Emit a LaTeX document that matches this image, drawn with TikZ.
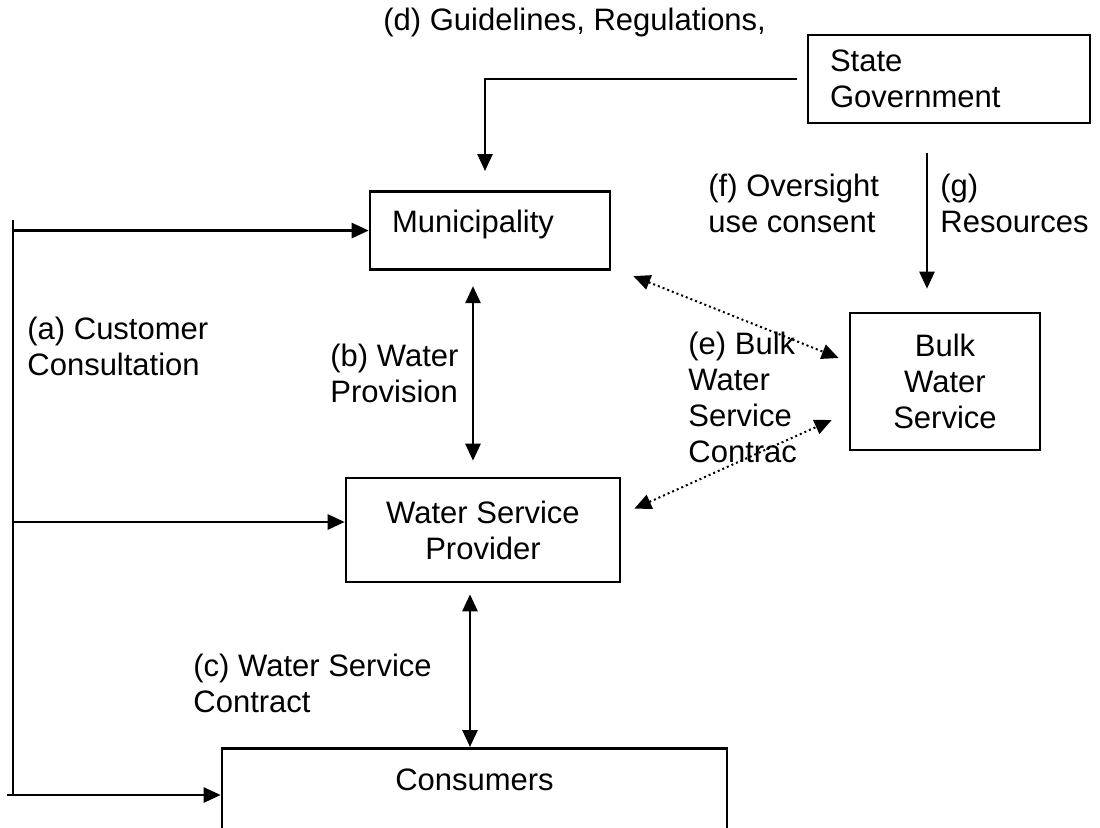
\documentclass[tikz,border=0pt]{standalone}
\usepackage{fontspec}
\setmainfont{Liberation Sans}
\usetikzlibrary{positioning,arrows.meta,calc}

\begin{document}
\begin{tikzpicture}[x=0.5pt, y=-0.5pt, font=\fontsize{15.5}{18}\selectfont, every node/.style={align=center}]
\tikzset{
  orgbox/.style={draw, line width=1.3pt, inner sep=0pt},
  lbl/.style={anchor=base west, inner sep=0pt, align=left},
  arr/.style={-{Triangle[length=8.5pt,width=7.5pt]}, line width=1.3pt},
  dblarr/.style={{Triangle[length=8.5pt,width=7.5pt]}-{Triangle[length=8.5pt,width=7.5pt]}, line width=1.3pt},
  dotarr/.style={dblarr, line width=1pt, dash pattern=on 1pt off 1.5pt}
}
  \useasboundingbox (0,0) rectangle (1100,827);
  \clip (0,0) rectangle (1100,827);
  % boxes
  \node[orgbox, minimum width=141pt, minimum height=44pt, text width=119pt, inner xsep=11pt, align=left] (state) at (949,79) {State\\Government};
  \node[orgbox, anchor=north, text width=98pt, inner xsep=11pt, inner ysep=9.5pt, text depth=9pt, align=left] (muni) at (490,190) {Municipality};
  \node[orgbox, minimum width=95pt, minimum height=68.5pt] (bulk) at (945,381.5) {Bulk\\Water\\Service};
  \node[orgbox, minimum width=137pt, minimum height=52pt] (wsp) at (483,530) {Water Service\\Provider};
  \node[orgbox, anchor=north, minimum width=252.5pt, inner ysep=10.5pt, text depth=40pt] (cons) at (474.5,747) {Consumers};
  % labels (base = last line)
  \node[lbl] (lbld) at (383,30) {(d) Guidelines, Regulations,};
  \node[lbl] (lbla) at (27,375) {(a) Customer\\Consultation};
  \node[lbl] (lblb) at (330,402) {(b) Water\\Provision};
  \node[lbl] (lblc) at (193,712) {(c) Water Service\\Contract};
  \node[lbl] (lble) at (688,462) {(e) Bulk\\Water\\Service\\Contrac};
  \node[lbl] (lblf) at (708,232) {(f) Oversight\\use consent};
  \node[lbl] (lblg) at (940,232) {(g)\\Resources};
  % customer consultation bar
  \coordinate (bartop) at (13,220);
  \coordinate (barend) at (7,795);
  \draw[line width=1.3pt] (bartop) -- (bartop |- barend);
  \draw[arr] (bartop |- muni.west) -- (muni.west);
  \draw[arr, transform canvas={yshift=4pt}] (bartop |- wsp.west) -- (wsp.west);
  \draw[arr] (barend) -- (barend -| cons.west);
  % state links
  \draw[arr, shorten <=5pt, shorten >=9.5pt] (state.west) -| ([xshift=-2.5pt]muni.north);
  \draw[arr] ([shift={(-11pt,-14.5pt)}]state.south) -- ([shift={(-9pt,11.5pt)}]bulk.north);
  % provision and contracts
  \draw[dblarr] ([shift={(-8.5pt,-7.5pt)}]muni.south) -- ([shift={(-5pt,8pt)}]wsp.north);
  \draw[dblarr] ([shift={(-6.5pt,-5.5pt)}]wsp.south) -- ([xshift=-2.25pt]cons.north);
  \draw[dotarr] ([shift={(11pt,-2.5pt)}]muni.south east) -- ([shift={(-5pt,11.75pt)}]bulk.west);
  \draw[dotarr] ([shift={(6.5pt,-16pt)}]wsp.north east) -- ([shift={(-8.5pt,-19.25pt)}]bulk.west);
\end{tikzpicture}
\end{document}
